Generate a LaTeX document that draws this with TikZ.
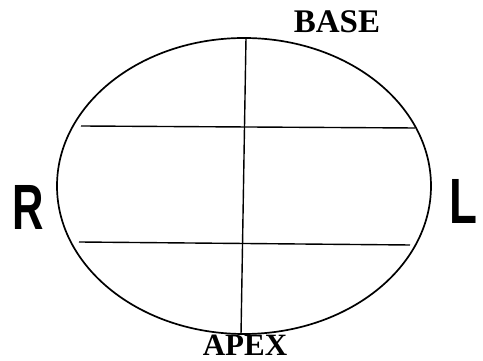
\documentclass[tikz,border=0pt]{standalone}
\usepackage{fontspec}
\setmainfont{Liberation Serif}
\newfontfamily\handfont{Liberation Sans}
\begin{document}
\begin{tikzpicture}[x=1pt,y=1pt,
  outline/.style={line width=1.7pt},
  rule/.style={line width=1.4pt},
  sidelabel/.style={font=\handfont\bfseries\fontsize{64}{64}\selectfont, inner sep=0pt, xscale=0.68},
  endlabel/.style={font=\bfseries\fontsize{33}{33}\selectfont, inner sep=0pt}]
\useasboundingbox (0,0) rectangle (483,361);
\coordinate (c) at (244,175);
\draw[outline] (c) ellipse [x radius=187, y radius=148];
\coordinate (vt) at (246,323);
\coordinate (vb) at (241,26);
\draw[rule] (vt) -- (vb);
\coordinate (u1) at (81,235);
\coordinate (u2) at (415,233);
\draw[rule] (u1) -- (u2);
\coordinate (l1) at (79,119);
\coordinate (l2) at (410,116);
\draw[rule] (l1) -- (l2);
\node[sidelabel] (R) at (28,154) {R};
\node[sidelabel, xscale=1.05] (L) at (463,160) {L};
\node[endlabel] (base) at (337,339) {BASE};
\node[endlabel, font=\fontsize{31}{31}\selectfont\bfseries] (apex) at (245,16) {APEX};
\end{tikzpicture}
\end{document}
